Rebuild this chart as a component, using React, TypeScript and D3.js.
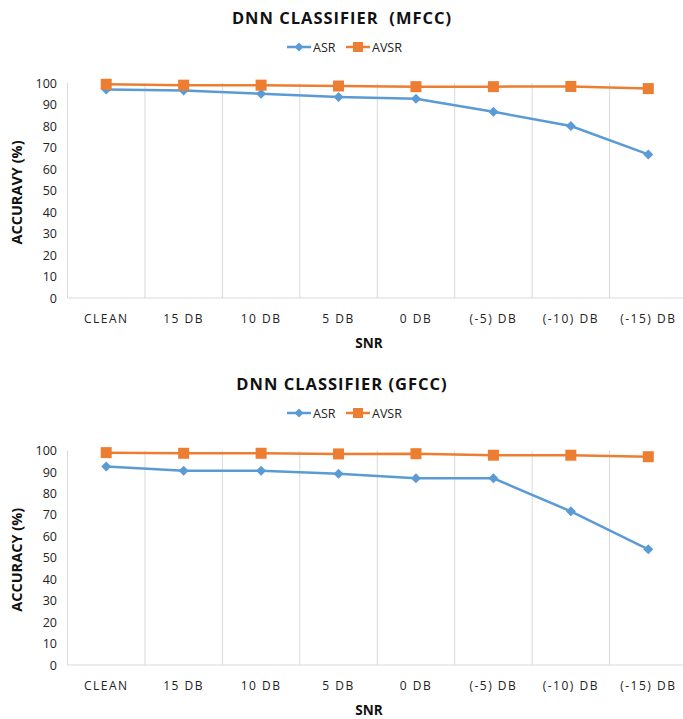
import React from "react";
import * as d3 from "d3";

const categories = ["CLEAN", "15 DB", "10 DB", "5 DB", "0 DB", "(-5) DB", "(-10) DB", "(-15) DB"];
const mfccASR = [97, 96.5, 95, 93.5, 92.7, 86.6, 80, 66.8];
const mfccAVSR = [99.4, 99, 99, 98.6, 98.3, 98.3, 98.4, 97.4];
const gfccASR = [92.6, 90.6, 90.6, 89.3, 87.2, 87.1, 71.7, 54];
const gfccAVSR = [99.1, 98.8, 98.8, 98.5, 98.6, 97.9, 97.9, 97.2];
const yTicks = [0, 10, 20, 30, 40, 50, 60, 70, 80, 90, 100];

const BLUE = "#5B9BD5";
const ORANGE = "#ED7D31";
const FONT = "'Open Sans', sans-serif";

type ChartProps = {
  top: number;
  title: string;
  yTitle: string;
  asr: number[];
  avsr: number[];
  yZero: number;
  yHundred: number;
};

function Chart({ top, title, yTitle, asr, avsr, yZero, yHundred }: ChartProps) {
  const left = 67.5;
  const right = 687;
  const x = d3.scaleBand<string>().domain(categories).range([left, right]);
  const y = d3.scaleLinear().domain([0, 100]).range([yZero, yHundred]);
  const cx = (c: string) => (x(c) as number) + x.bandwidth() / 2;
  const line = d3
    .line<number>()
    .x((_, i) => cx(categories[i]))
    .y((d) => y(d));
  const bounds = categories.slice(1).map((c) => x(c) as number);
  const legendY = top + 47;
  return (
    <g>
      <text x={342} y={top + 24} textAnchor="middle" fontFamily={FONT} fontWeight="bold" fontSize={16.5} letterSpacing={1} fill="#111" xmlSpace="preserve" style={{ whiteSpace: "pre" }}>
        {title}
      </text>
      {/* legend */}
      <g>
        <line x1={287} x2={311} y1={legendY} y2={legendY} stroke={BLUE} strokeWidth={2.5} />
        <path d={`M${299},${legendY - 4.5}L${303.5},${legendY}L${299},${legendY + 4.5}L${294.5},${legendY}Z`} fill={BLUE} />
        <text x={313} y={legendY + 4.5} fontFamily={FONT} fontSize={12.5} fill="#222">ASR</text>
        <line x1={346} x2={370} y1={legendY} y2={legendY} stroke={ORANGE} strokeWidth={2.5} />
        <rect x={353} y={legendY - 5} width={10} height={10} fill={ORANGE} />
        <text x={372} y={legendY + 4.5} fontFamily={FONT} fontSize={12.5} fill="#222">AVSR</text>
      </g>
      {/* gridlines between categories */}
      {bounds.map((b, i) => (
        <line key={i} x1={b} x2={b} y1={y(100)} y2={y(0)} stroke="#D9D9D9" strokeWidth={1} />
      ))}
      <line x1={left} x2={left} y1={y(100)} y2={y(0)} stroke="#D9D9D9" strokeWidth={1} />
      <line x1={left} x2={right} y1={y(0)} y2={y(0)} stroke="#D9D9D9" strokeWidth={1} />
      {/* y ticks */}
      {yTicks.map((t) => (
        <text key={t} x={57} y={y(t) + 4.5} textAnchor="end" fontFamily={FONT} fontSize={12.5} fill="#222">
          {t}
        </text>
      ))}
      {/* x labels */}
      {categories.map((c) => (
        <text key={c} x={cx(c)} y={y(0) + 25} textAnchor="middle" fontFamily={FONT} fontSize={12} letterSpacing={1.5} fill="#222">
          {c}
        </text>
      ))}
      <text x={369} y={y(0) + 50} textAnchor="middle" fontFamily={FONT} fontWeight="bold" fontSize={13.5} fill="#111">
        SNR
      </text>
      <text
        transform={`translate(22,${(y(0) + y(100)) / 2 + 2}) rotate(-90)`}
        textAnchor="middle"
        fontFamily={FONT}
        fontWeight="bold"
        fontSize={14.5}
        fill="#111"
      >
        {yTitle}
      </text>
      {/* lines */}
      <path d={line(asr) || ""} fill="none" stroke={BLUE} strokeWidth={2.5} />
      <path d={line(avsr) || ""} fill="none" stroke={ORANGE} strokeWidth={2.5} />
      {asr.map((v, i) => {
        const px = cx(categories[i]);
        const py = y(v);
        return <path key={"a" + i} d={`M${px},${py - 5}L${px + 5},${py}L${px},${py + 5}L${px - 5},${py}Z`} fill={BLUE} />;
      })}
      {avsr.map((v, i) => {
        const px = cx(categories[i]);
        const py = y(v);
        return <rect key={"b" + i} x={px - 5.5} y={py - 5.5} width={11} height={11} fill={ORANGE} />;
      })}
    </g>
  );
}

export default function App() {
  return (
    <svg width={683} height={719} style={{ position: "absolute", left: 0, top: 0, background: "#fff" }}>
      <rect width={683} height={719} fill="#fff" />
      <Chart top={0} title="DNN CLASSIFIER  (MFCC)" yTitle="ACCURAVY (%)" asr={mfccASR} avsr={mfccAVSR} yZero={298} yHundred={83} />
      <Chart top={366} title="DNN CLASSIFIER (GFCC)" yTitle="ACCURACY (%)" asr={gfccASR} avsr={gfccAVSR} yZero={665} yHundred={450.7} />
    </svg>
  );
}
